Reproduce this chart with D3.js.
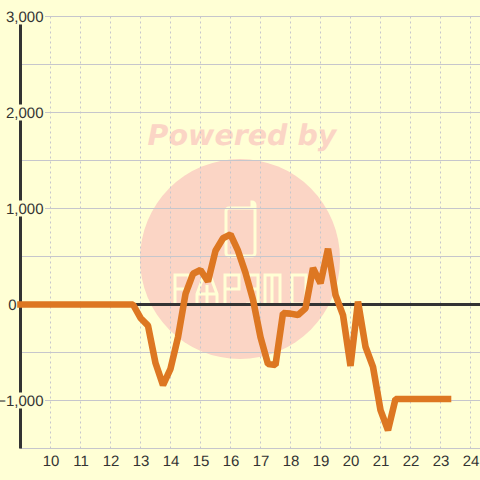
<!DOCTYPE html>
<html><head><meta charset="utf-8">
<script src="https://cdnjs.cloudflare.com/ajax/libs/d3/7.8.5/d3.min.js"></script>
<style>html,body{margin:0;padding:0;background:#ffffd5}svg{display:block}text{font-family:"Liberation Sans",Arial,sans-serif;text-rendering:geometricPrecision}</style>
</head><body><svg id="c" width="480" height="480"></svg>
<script>
const hourTicks=[10,11,12,13,14,15,16,17,18,19,20,21,22,23,24];
const majorTicks=[3000,2000,1000,0,-1000];
const minorGrid=[2500,1500,500,-500,-1500];
const hours=[9,9.25,9.5,9.75,10,10.25,10.5,10.75,11,11.25,11.5,11.75,12,12.25,12.5,12.75,13,13.25,13.5,13.75,14,14.25,14.5,14.75,15,15.25,15.5,15.75,16,16.25,16.5,16.75,17,17.25,17.5,17.75,18,18.25,18.5,18.75,19,19.25,19.5,19.75,20,20.25,20.5,20.75,21,21.25,21.5,21.75,22,22.25,22.5,22.75,23,23.25];
const values=[0,0,0,0,0,0,0,0,0,0,0,0,0,0,0,0,-140,-220,-610,-840,-670,-340,110,320,360,240,560,690,730,560,330,50,-340,-620,-630,-90,-95,-110,-40,380,220,580,100,-110,-640,30,-440,-650,-1100,-1310,-985,-985,-985,-985,-985,-985,-985,-985];
const watermarkTitle="Powered by";

const svg=d3.select("#c");
const x=d3.scaleLinear().domain([9,24]).range([20.5,470.5]);
const y=d3.scaleLinear().domain([3000,-1500]).range([16.5,448.5]);
const gridCol="#c6c6cc",ink="#333333",wm="#fbd5c5",bg="#ffffd5";

svg.append("rect").attr("width",480).attr("height",480).attr("fill",bg);

// watermark
const w=svg.append("g");
w.append("circle").attr("cx",240).attr("cy",259).attr("r",100).attr("fill",wm);
w.append("text").attr("x",242).attr("y",145).attr("text-anchor","middle")
 .style("font-family","'DejaVu Sans'").style("font-weight","bold").style("font-style","italic")
 .style("font-size","28.5px").attr("fill",wm).text(watermarkTitle);
w.append("path").attr("fill","none").attr("stroke",bg).attr("stroke-width",3).attr("stroke-linecap","round")
 .attr("d","M252 202 a3 3 0 0 1 3 3 V253 a3 3 0 0 1 -3 3 H229 a3 3 0 0 1 -3 -3 V211 a3 3 0 0 1 3 -3 H252 Z M252 208 V202");
w.append("path").attr("fill","none").attr("stroke",bg).attr("stroke-width",3)
 .attr("d","M175 304 V275 H189 V289 H175 M197 304 V294 L204 275 H210 L217 294 V304 M197 294 H217 M207 285 V304 M225 304 V275 H239 V289 H225 M246 275 H258 V304 H246 M248 289 H258 M265 304 V275 H280 V304 M272 275 V304 M292 304 V275 H306 V304 H292");

// grid
svg.append("g").selectAll("line").data(majorTicks.concat(minorGrid)).join("line")
 .attr("x1",20).attr("x2",480).attr("y1",d=>y(d)).attr("y2",d=>y(d))
 .attr("stroke",gridCol).attr("stroke-width",1);
svg.append("g").selectAll("line").data(hourTicks).join("line")
 .attr("x1",d=>x(d)).attr("x2",d=>x(d)).attr("y1",y(3000)).attr("y2",y(-1500))
 .attr("stroke",gridCol).attr("stroke-width",1).attr("stroke-dasharray","2,3");

// axes
svg.append("line").attr("x1",20).attr("x2",480).attr("y1",y(0)).attr("y2",y(0)).attr("stroke",ink).attr("stroke-width",3);
svg.append("line").attr("x1",20.5).attr("x2",20.5).attr("y1",y(3000)).attr("y2",y(-1500)).attr("stroke",ink).attr("stroke-width",3);

// labels with background
const fmt=d3.format(",");
const labelRight=d=>d===0?16.5:43.5;
const yl=svg.append("g").selectAll("g").data(majorTicks).join("g");
yl.filter(d=>d!==0).append("rect").attr("x",2).attr("y",d=>y(d)-8).attr("width",43).attr("height",16).attr("fill",bg);
yl.append("text").attr("x",labelRight).attr("y",d=>y(d)+5.5).attr("text-anchor","end").attr("font-size",15).attr("fill",ink).text(d=>fmt(d));
svg.append("g").selectAll("text").data(hourTicks).join("text")
 .attr("x",d=>x(d)+0.5).attr("y",466).attr("text-anchor","middle").attr("font-size",15).attr("fill",ink).text(d=>d);

// series
const line=d3.line().x((d,i)=>x(hours[i])).y(d=>y(d));
svg.append("path").datum(values).attr("d",line).attr("fill","none").attr("stroke","#dd7722").attr("stroke-width",6.6).attr("stroke-linejoin","bevel").attr("stroke-linecap","square");
</script></body></html>
